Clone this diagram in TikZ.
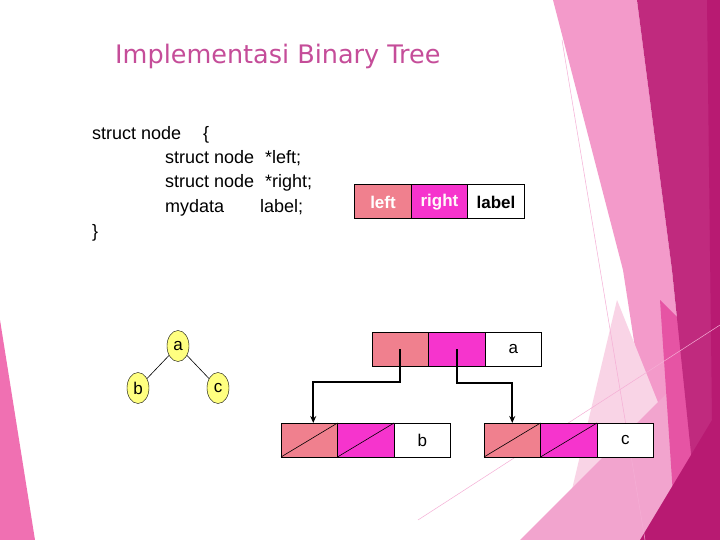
\documentclass[tikz,border=0pt]{standalone}
\usepackage{fontspec}
\setmainfont{Liberation Sans}
\newfontfamily\titlefont{DejaVu Sans}
\usetikzlibrary{positioning,arrows.meta,shapes.geometric}

\definecolor{titlepink}{RGB}{197,77,153}
\definecolor{leftpink}{RGB}{240,128,142}
\definecolor{rightpink}{RGB}{246,52,205}
\definecolor{treeyellow}{RGB}{255,255,128}
\definecolor{bandpink}{RGB}{243,154,202}
\definecolor{palepink}{RGB}{249,212,230}
\definecolor{midpink}{RGB}{242,164,206}
\definecolor{hotpink}{RGB}{230,84,164}
\definecolor{darkmag}{RGB}{192,42,126}
\definecolor{deepmag}{RGB}{184,26,114}
\definecolor{sidepink}{RGB}{240,112,178}

\tikzset{
  cell/.style={draw, line width=1pt, minimum width=56.5pt, minimum height=34pt,
    inner sep=0pt, outer sep=0pt, font=\fontsize{17}{17}\selectfont},
  keycell/.style={cell, font=\bfseries\fontsize{17}{17}\selectfont},
  leaf/.style={ellipse, draw, fill=treeyellow, minimum width=22pt, minimum height=31pt,
    inner sep=0pt, font=\fontsize{17}{17}\selectfont},
  code/.style={anchor=base west, inner sep=0pt, font=\fontsize{18}{18}\selectfont},
  ptr/.style={line width=1.7pt, -{Stealth[length=7pt,width=6pt]}},
}

\begin{document}
\begin{tikzpicture}[x=1pt,y=-1pt]
  \useasboundingbox (0,0) rectangle (720,540);
  \fill[white] (0,0) rectangle (720,540);

  % background
  \fill[sidepink] (0,320) -- (35,540) -- (0,540) -- cycle;
  \fill[bandpink] (553,0) -- (637,0) -- (672,270) -- (700,540) -- (600,540) -- (640,380) -- (623,270) -- cycle;
  \fill[palepink] (617,300) -- (665,420) -- (640,540) -- (560,540) -- cycle;
  \fill[midpink] (520,540) -- (692,368) -- (705,540) -- cycle;
  \fill[hotpink] (660,300) -- (690,330) -- (708,540) -- (676,540) -- cycle;
  \fill[darkmag] (637,0) -- (720,0) -- (720,540) -- (700,540) -- (672,270) -- cycle;
  \fill[deepmag] (707,0) -- (720,0) -- (720,540) -- (640,540) -- (712,420) -- cycle;
  \draw[bandpink!80!white, line width=0.5pt] (562,40) -- (645,540);
  \draw[bandpink!80!white, line width=0.5pt] (418,520) -- (720,325);

  % title
  \node[anchor=base west, inner sep=0pt, text=titlepink, font=\titlefont\fontsize{25.5}{25.5}\selectfont]
    (title) at (115,64) {Implementasi Binary Tree};

  % struct declaration
  \node[code] (c1) at (92,140) {struct node};
  \node[code] (c1b) at (203,140) {\{};
  \node[code] (c2) at (165,164) {struct node};
  \node[code] (c2b) at (265,164) {*left;};
  \node[code] (c3) at (165,188) {struct node};
  \node[code] (c3b) at (265,188) {*right;};
  \node[code] (c4) at (165,212) {mydata};
  \node[code] (c4b) at (260,212) {label;};
  \node[code] (c5) at (92,237) {\}};

  % legend
  \node[keycell, fill=leftpink, text=white] (kL) at (383,202) {left};
  \node[keycell, fill=rightpink, text=white!90!pink, right=0pt of kL] (kR) {right};
  \node[keycell, fill=white, right=0pt of kR] (kD) {label};

  % small tree
  \node[leaf] (ta) at (178,346) {a};
  \node[leaf] (tb) at (138,388) {b};
  \node[leaf] (tc) at (218,388) {c};
  \draw[line width=0.6pt] (ta) -- (tb);
  \draw[line width=0.6pt] (ta) -- (tc);

  % linked nodes
  \node[cell, fill=leftpink] (aL) at (400.25,349) {};
  \node[cell, fill=rightpink, right=0pt of aL] (aR) {};
  \node[cell, fill=white, right=0pt of aR] (aD) {a};

  \node[cell, fill=leftpink] (bL) at (309.25,440) {};
  \node[cell, fill=rightpink, right=0pt of bL] (bR) {};
  \node[cell, fill=white, right=0pt of bR] (bD) {b};

  \node[cell, fill=leftpink] (cL) at (512.25,440) {};
  \node[cell, fill=rightpink, right=0pt of cL] (cR) {};
  \node[cell, fill=white, right=0pt of cR] (cD) {c};

  \foreach \n in {bL,bR,cL,cR} {
    \draw[line width=0.6pt] (\n.south west) -- (\n.north east);
  }

  \draw[ptr] (aL.center) -- ++(0,33) -| ([xshift=4pt]bL.north);
  \draw[ptr] (aR.center) -- ++(0,34) -| (cL.north);
\end{tikzpicture}
\end{document}
